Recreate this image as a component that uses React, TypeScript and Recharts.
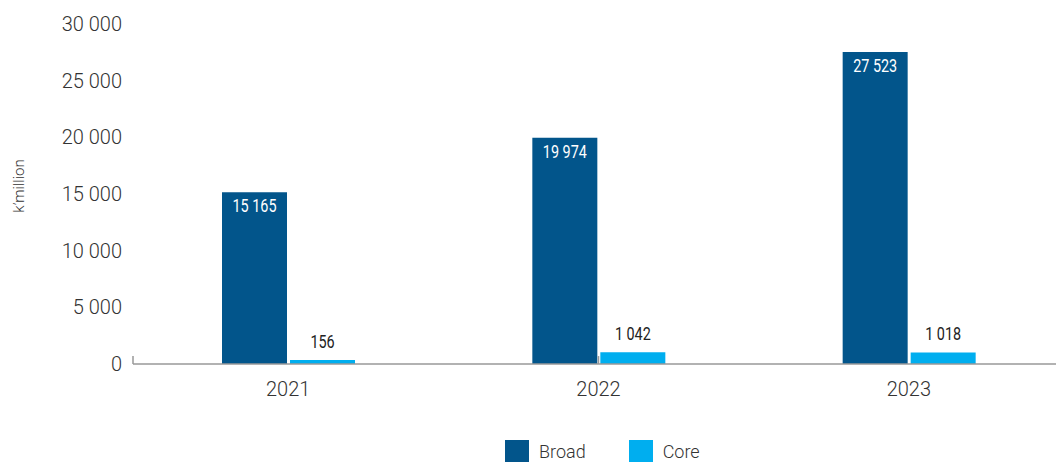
import {
  Bar,
  BarChart,
  LabelList,
  Legend,
  ReferenceLine,
  XAxis,
  YAxis,
} from "recharts";

const YEARS = ["2021", "2022", "2023"];
const BROAD = [15165, 19974, 27523];
const CORE = [156, 1042, 1018];
const Y_TICKS = [0, 5000, 10000, 15000, 20000, 25000, 30000];
const EDGE_TICKS = [0, 1, 2, 3];

const BROAD_COLOR = "#02558b";
const CORE_COLOR = "#00aeef";
const TEXT = "#333333";
const BASE_FONT = "Roboto, 'Liberation Sans', sans-serif";

const data = YEARS.map((year, i) => ({
  year,
  broad: BROAD[i],
  core: CORE[i],
}));

// 15165 -> "15 165"
function fmtSpace(v: number): string {
  return String(v).replace(/\B(?=(\d{3})+(?!\d))/g, " ");
}

// condensed value label: no condensed font installed, so squeeze horizontally
function narrowLabel(inside: boolean) {
  return (p: any) => {
    const cx = Number(p.x) + Number(p.width) / 2;
    const top = Number(p.y);
    const baseY = inside ? top + 20 : top - 12;
    return (
      <text
        transform={`translate(${cx}, ${baseY}) scale(0.8, 1)`}
        textAnchor="middle"
        fontSize={18}
        fontFamily={BASE_FONT}
        fill={inside ? "#ffffff" : "#222222"}
      >
        {fmtSpace(Number(p.value))}
      </text>
    );
  };
}

function YLabel(props: any) {
  const vb = props.viewBox || {};
  const x = vb.x + 19;
  const y = vb.y + vb.height / 2 - 8;
  return (
    <text
      x={x}
      y={y}
      transform={`rotate(-90, ${x}, ${y})`}
      textAnchor="middle"
      dominantBaseline="central"
      fontSize={15}
      fill={TEXT}
      fontFamily={BASE_FONT}
      fontWeight={300}
    >
      k’million
    </text>
  );
}

function LegendContent(props: any) {
  const items = props.payload || [];
  return (
    <div
      style={{
        display: "flex",
        alignItems: "center",
        height: 22,
        fontFamily: BASE_FONT,
        fontWeight: 300,
        fontSize: 18,
        color: TEXT,
      }}
    >
      {items.map((it: any) => (
        <div
          key={it.value}
          style={{ display: "flex", alignItems: "center", marginRight: 43 }}
        >
          <span
            style={{
              display: "inline-block",
              width: 24,
              height: 22,
              background: it.color,
              marginRight: 10,
            }}
          />
          <span>{it.value}</span>
        </div>
      ))}
    </div>
  );
}

export default function App() {
  return (
    <div
      style={{
        position: "absolute",
        left: 0,
        top: 0,
        width: 1056,
        height: 462,
        overflow: "hidden",
        background: "#fff",
      }}
    >
      <BarChart
        width={1064}
        height={462}
        data={data}
        margin={{ top: 24, right: 0, bottom: 0, left: 0 }}
        barSize={65}
        barGap={3}
        style={{ fontFamily: BASE_FONT }}
      >
        <XAxis
          dataKey="year"
          axisLine={{ stroke: "#999999", strokeWidth: 1.5 }}
          tickLine={false}
          tickMargin={12}
          height={76}
          tick={{ fontSize: 20, fill: TEXT, fontWeight: 300 }}
        />
        <XAxis
          xAxisId="edge"
          type="number"
          domain={[0, 3]}
          ticks={EDGE_TICKS}
          hide
        />
        <YAxis
          width={133}
          domain={[0, 30000]}
          ticks={Y_TICKS}
          axisLine={false}
          tickLine={false}
          tickMargin={5}
          interval={0}
          tick={{ fontSize: 20, fill: TEXT, fontWeight: 300 }}
          tickFormatter={(v: number) => fmtSpace(v)}
          label={<YLabel />}
        />
        {EDGE_TICKS.map((t) => (
          <ReferenceLine
            key={t}
            xAxisId="edge"
            ifOverflow="visible"
            segment={[
              { x: t, y: 0 },
              { x: t, y: 700 },
            ]}
            stroke="#999999"
            strokeWidth={1.5}
          />
        ))}
        <Legend
          verticalAlign="bottom"
          content={<LegendContent />}
          wrapperStyle={{ left: 505, width: "auto" }}
        />
        <Bar
          dataKey="broad"
          name="Broad"
          fill={BROAD_COLOR}
          isAnimationActive={false}
        >
          <LabelList dataKey="broad" content={narrowLabel(true)} />
        </Bar>
        <Bar
          dataKey="core"
          name="Core"
          fill={CORE_COLOR}
          minPointSize={4}
          isAnimationActive={false}
        >
          <LabelList dataKey="core" content={narrowLabel(false)} />
        </Bar>
      </BarChart>
    </div>
  );
}
